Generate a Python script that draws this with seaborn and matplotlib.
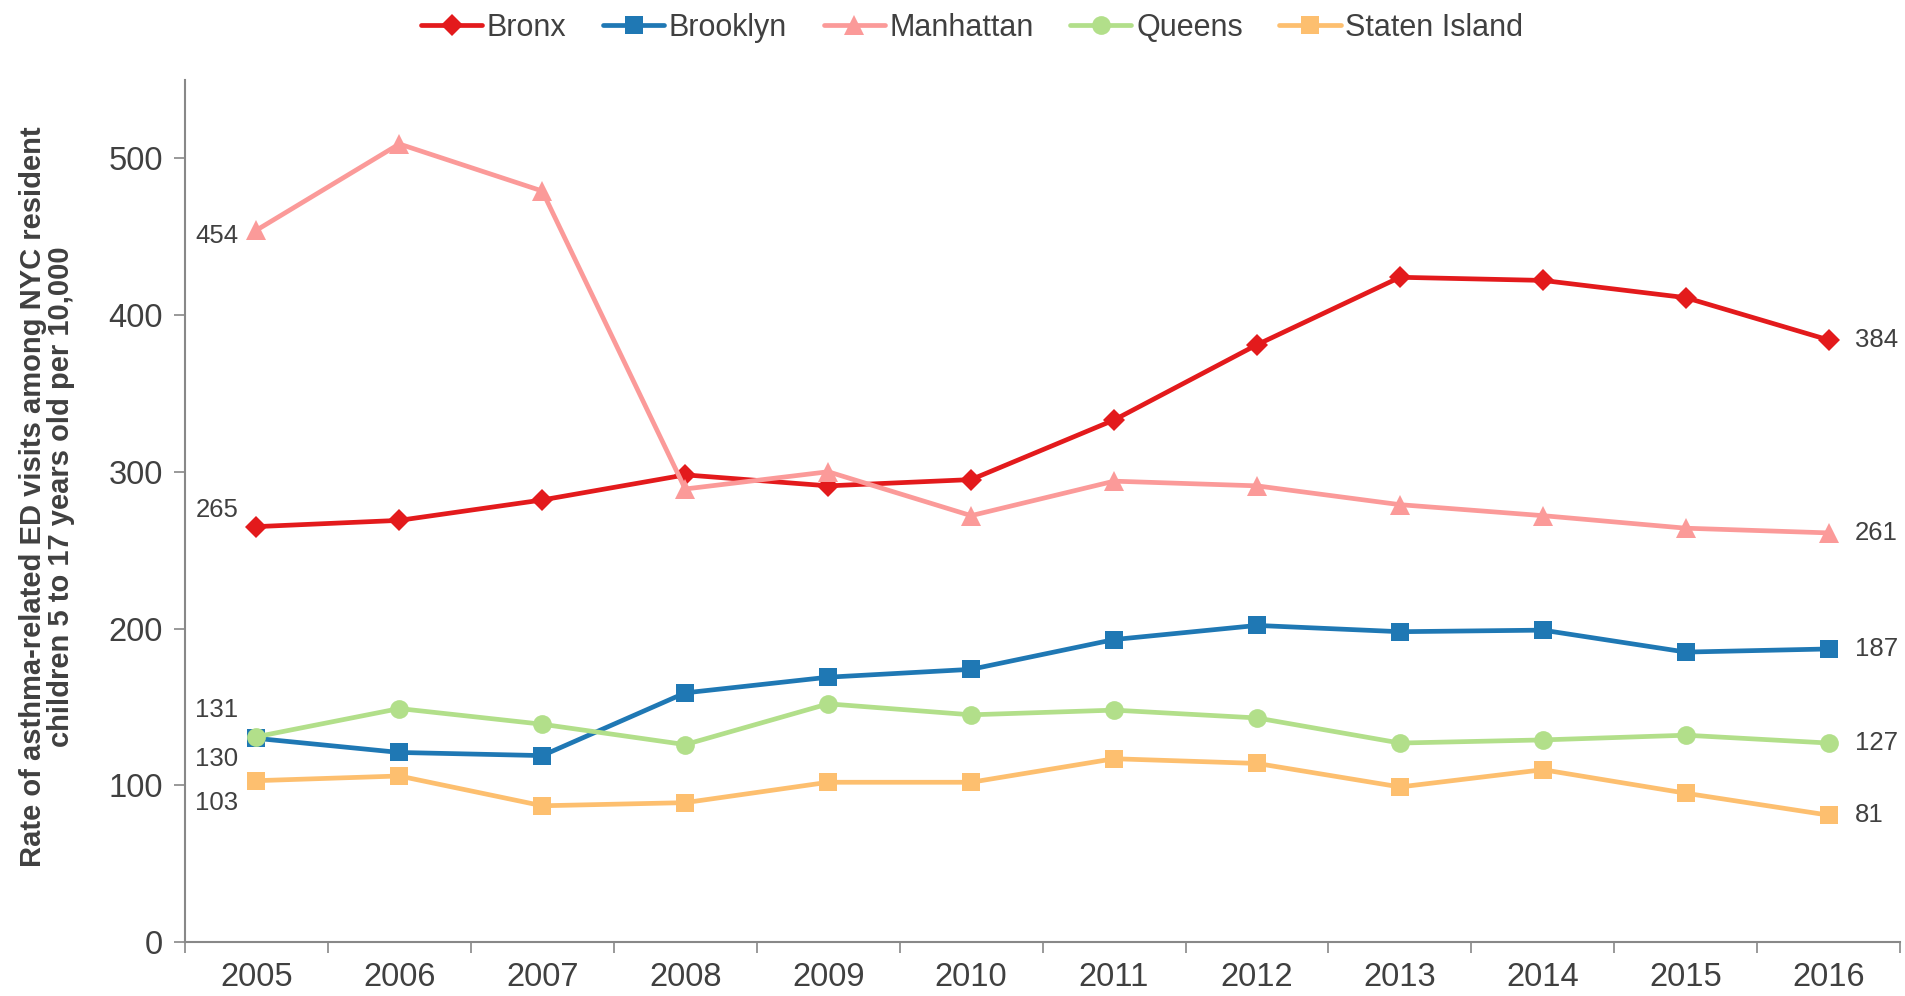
import pandas as pd
import matplotlib
matplotlib.use('Agg')
import matplotlib.pyplot as plt
import seaborn as sns

sns.set_theme(style='white')
plt.rcParams['font.family'] = ['Liberation Sans', 'DejaVu Sans']

# 数据
years = ['2005', '2006', '2007', '2008', '2009', '2010',
         '2011', '2012', '2013', '2014', '2015', '2016']
bronx = [265, 269, 282, 298, 291, 295, 333, 381, 424, 422, 411, 384]
brooklyn = [130, 121, 119, 159, 169, 174, 193, 202, 198, 199, 185, 187]
manhattan = [454, 509, 479, 289, 300, 272, 294, 291, 279, 272, 264, 261]
queens = [131, 149, 139, 126, 152, 145, 148, 143, 127, 129, 132, 127]
staten = [103, 106, 87, 89, 102, 102, 117, 114, 99, 110, 95, 81]

series = {'Bronx': bronx, 'Brooklyn': brooklyn, 'Manhattan': manhattan,
          'Queens': queens, 'Staten Island': staten}
colors = {'Bronx': '#e31a1c', 'Brooklyn': '#1f78b4', 'Manhattan': '#fb9a99',
          'Queens': '#b2df8a', 'Staten Island': '#fdbf6f'}
markers = {'Bronx': 'D', 'Brooklyn': 's', 'Manhattan': '^',
           'Queens': 'o', 'Staten Island': 's'}
msizes = {'Bronx': 11, 'Brooklyn': 12.5, 'Manhattan': 14, 'Queens': 13.5, 'Staten Island': 12.5}
# 左侧标注的垂直偏移（像素）
left_dy = {'Bronx': 17, 'Brooklyn': -21, 'Manhattan': -6, 'Queens': 27, 'Staten Island': -22}

txt = '#404040'
fig = plt.figure(figsize=(19.06, 9.96), dpi=100)
ax = fig.add_axes([0.097, 0.054, 0.9, 0.866])

x = list(range(len(years)))
for name, vals in series.items():
    df = pd.DataFrame({'x': x, 'y': vals})
    sns.lineplot(data=df, x='x', y='y', ax=ax, color=colors[name], linewidth=3.4,
                 marker=markers[name], markersize=msizes[name], markeredgewidth=0,
                 label=name)
    ax.annotate(str(vals[0]), (x[0], vals[0]), xytext=(-18, left_dy[name]),
                textcoords='offset pixels', ha='right', va='center',
                fontsize=18.5, color=txt)
    ax.annotate(str(vals[-1]), (x[-1], vals[-1]), xytext=(26, 0),
                textcoords='offset pixels', ha='left', va='center',
                fontsize=18.5, color=txt)

ax.set_xlim(-0.5, len(years) - 0.5)
ax.set_ylim(0, 550)
ax.set_yticks(range(0, 501, 100))
ax.set_xticks(x)
ax.set_xticklabels(years)
ax.set_xticks([i - 0.5 for i in range(len(years) + 1)], minor=True)
ax.tick_params(axis='x', which='major', length=0, pad=14, labelsize=23.5, labelcolor=txt)
ax.tick_params(axis='x', which='minor', length=8, width=1.2, color='#888888', direction='out', bottom=True)
ax.tick_params(axis='y', length=8, width=1.2, color='#888888', direction='out', left=True,
               labelsize=23.5, labelcolor=txt, pad=8)
ax.set_xlabel('')
ax.set_ylabel('Rate of asthma-related ED visits among NYC resident\nchildren 5 to 17 years old per 10,000',
              fontsize=21, fontweight='bold', color=txt, linespacing=1.0)
ax.yaxis.set_label_coords(-0.064, 0.517)
for s in ['top', 'right']:
    ax.spines[s].set_visible(False)
for s in ['left', 'bottom']:
    ax.spines[s].set_color('#888888')
    ax.spines[s].set_linewidth(1.5)

handles, labels = ax.get_legend_handles_labels()
ax.get_legend().remove()
fig.legend(handles, labels, loc='upper center', bbox_to_anchor=(0.51, 1.015), ncol=5,
           frameon=False, fontsize=22, handlelength=2.0, handletextpad=0.15,
           columnspacing=1.2, labelcolor=txt)

plt.savefig('out.png', dpi=100)
plt.close()
